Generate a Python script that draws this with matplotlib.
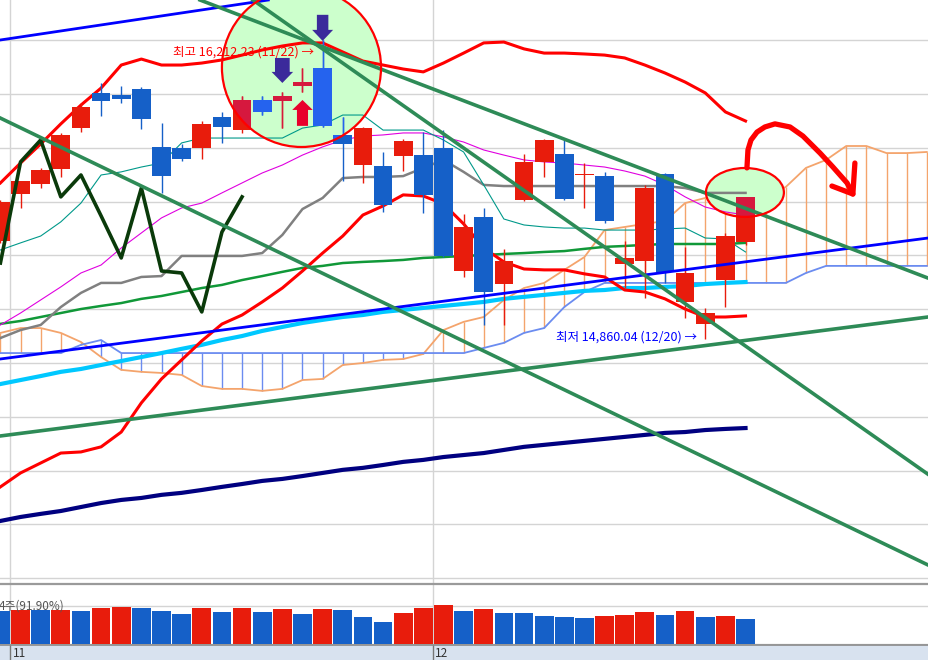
import numpy as np
import matplotlib.pyplot as plt
from matplotlib.patches import Ellipse, Polygon

plt.rcParams['font.family'] = ['Noto Sans CJK KR', 'DejaVu Sans']

# ---- daily candles (38 sessions, index 0 = last day of Oct) ----
opens = [15304, 15516, 15561, 15629, 15814, 15973, 15964, 15991, 15729, 15724,
         15724, 15864, 15805, 15941, 15936, 16004, 16086, 15783, 15647, 15643,
         15688, 15692, 15724, 15168, 15412, 15109, 15489, 15661, 15697, 15602,
         15597, 15200, 15213, 15606, 15028, 14928, 15127, 15299]
closes = [15480, 15575, 15625, 15783, 15909, 15936, 15946, 15855, 15597, 15674,
          15832, 15819, 15941, 15887, 15959, 16022, 15823, 15742, 15814, 15466,
          15756, 15512, 15236, 15367, 15073, 15213, 15661, 15760, 15494, 15606,
          15394, 15227, 15543, 15164, 15159, 14978, 15326, 15503]
highs = [15489, 15577, 15634, 15792, 15927, 16018, 16004, 16000, 15837, 15742,
         15846, 15887, 15959, 15959, 15977, 16086, 16212.23, 15864, 15819, 15706,
         15765, 15796, 15805, 15426, 15453, 15268, 15697, 15765, 15760, 15656,
         15616, 15304, 15557, 15611, 15277, 15001, 15340, 15503]
lows = [15295, 15453, 15543, 15593, 15796, 15869, 15927, 15810, 15521, 15665,
        15674, 15747, 15792, 15873, 15814, 15977, 15819, 15575, 15566, 15435,
        15620, 15430, 15231, 15141, 14924, 14924, 15484, 15593, 15489, 15453,
        15385, 15091, 15046, 15114, 14956, 14860.04, 15005, 15286]

volume = [98, 101, 101, 101, 98, 107, 110, 107, 98, 89,
          107, 95, 107, 95, 104, 89, 104, 101, 80, 65,
          92, 107, 116, 98, 104, 92, 92, 83, 80, 77,
          83, 86, 95, 86, 98, 80, 83, 74]
vol_up = [0, 1, 0, 1, 0, 1, 1, 0, 0, 0, 1, 0, 1, 0, 1, 0, 1, 0, 0, 0,
          1, 1, 1, 0, 1, 0, 0, 0, 0, 0, 1, 1, 1, 0, 1, 0, 1, 0]

# ---- indicator lines ----
bb_upper = [15566, 15656, 15742, 15833, 15918, 15995, 16099, 16126, 16099, 16099,
            16108, 16122, 16144, 16167, 16185, 16199, 16199, 16158, 16117, 16099,
            16081, 16068, 16108, 16153, 16199, 16203, 16172, 16153, 16153, 16149,
            16144, 16131, 16099, 16063, 16022, 15973, 15887, 15846]
bb_lower = [14192, 14255, 14300, 14345, 14350, 14373, 14440, 14572, 14680, 14766,
            14852, 14928, 14969, 15028, 15091, 15168, 15249, 15326, 15421, 15462,
            15512, 15507, 15471, 15381, 15272, 15209, 15177, 15173, 15173, 15155,
            15141, 15082, 15073, 15042, 14996, 14960, 14960, 14965]
zigzag = [15204, 15661, 15760, 15503, 15602, 15417, 15227, 15543, 15168, 15159,
          14983, 15344, 15503]
tenkan = [15263, 15295, 15326, 15390, 15475, 15602, 15616, 15638, 15656, 15747,
          15769, 15769, 15769, 15769, 15769, 15814, 15828, 15873, 15873, 15805,
          15805, 15805, 15760, 15706, 15557, 15403, 15376, 15367, 15362, 15362,
          15353, 15353, 15353, 15358, 15362, 15317, 15313, 15254]
ma_magenta = [14924, 14978, 15037, 15096, 15159, 15195, 15272, 15340, 15408, 15453,
              15475, 15521, 15566, 15611, 15647, 15692, 15729, 15760, 15778, 15783,
              15792, 15792, 15774, 15751, 15715, 15692, 15670, 15661, 15656, 15647,
              15638, 15620, 15597, 15557, 15503, 15457, 15435, 15421]
kijun = [14865, 14901, 14924, 15005, 15069, 15114, 15114, 15141, 15145, 15236,
         15236, 15236, 15236, 15249, 15331, 15448, 15498, 15588, 15593, 15593,
         15597, 15634, 15670, 15616, 15557, 15552, 15552, 15552, 15552, 15552,
         15552, 15552, 15552, 15552, 15543, 15521, 15521, 15521]
ma_green = [14929, 14942, 14960, 14978, 14996, 15010, 15023, 15042, 15055, 15073,
            15091, 15105, 15127, 15145, 15164, 15182, 15191, 15204, 15209, 15213,
            15218, 15227, 15231, 15236, 15240, 15245, 15249, 15254, 15258, 15268,
            15277, 15281, 15286, 15290, 15290, 15290, 15290, 15295]
ma_cyan = [14657, 14675, 14693, 14712, 14725, 14743, 14761, 14779, 14797, 14816,
           14834, 14856, 14874, 14897, 14915, 14933, 14947, 14960, 14969, 14983,
           14992, 15001, 15010, 15019, 15028, 15042, 15051, 15060, 15069, 15078,
           15082, 15091, 15091, 15096, 15100, 15109, 15114, 15118]
ma_navy = [14038, 14056, 14070, 14083, 14101, 14119, 14133, 14142, 14156, 14165,
           14178, 14192, 14205, 14219, 14228, 14241, 14255, 14269, 14278, 14291,
           14305, 14314, 14327, 14336, 14345, 14359, 14373, 14382, 14391, 14400,
           14409, 14418, 14427, 14436, 14440, 14449, 14454, 14458]
# ichimoku leading spans (run 9 sessions into the future)
span_a = [14888, 14910, 14910, 14888, 14847, 14779, 14721, 14712, 14707, 14698,
          14648, 14635, 14635, 14626, 14635, 14675, 14680, 14743, 14752, 14766,
          14770, 14793, 14901, 14938, 14960, 15037, 15091, 15114, 15173, 15231,
          15353, 15367, 15381, 15394, 15475, 15498, 15503, 15507, 15507, 15548,
          15634, 15670, 15733, 15733, 15701, 15701, 15706]
span_b = [14797, 14797, 14797, 14797, 14834, 14856, 14797, 14797, 14797, 14797,
          14797, 14797, 14797, 14797, 14797, 14797, 14797, 14797, 14797, 14797,
          14797, 14797, 14797, 14797, 14820, 14843, 14888, 14910, 15005, 15073,
          15114, 15114, 15114, 15114, 15114, 15114, 15114, 15114, 15114, 15114,
          15159, 15191, 15191, 15191, 15191, 15191, 15191]

# hand drawn trend lines: two anchor points (index, price)
trend_lines = [
    ((-0.02, 16212), (12.64, 16384), '#0000ff', 2.0),
    ((-0.02, 14770), (46.06, 15317), '#0000ff', 2.0),
    ((-0.02, 14422), (46.06, 14960), '#2e8b57', 2.6),
    ((-0.02, 15860), (46.06, 13839), '#2e8b57', 2.6),
    ((9.91, 16393), (46.06, 15136), '#2e8b57', 2.6),
    ((12.54, 16393), (46.11, 14246), '#2e8b57', 2.6),
]

# hand drawn red arrow (index, price)
curve_x = [37.07, 37.12, 37.27, 37.57, 37.96, 38.46, 39.21, 39.85, 40.70, 41.34, 42.04, 42.33]
curve_y = [15634, 15715, 15760, 15796, 15819, 15833, 15819, 15778, 15701, 15638, 15566, 15516]
head_x = [41.29, 42.33, 42.43]
head_y = [15552, 15516, 15656]

# block arrows over the top candles
arrow_x = [14, 16, 15]
arrow_tip = [16018, 16208, 15941]
arrow_dir = [1, 1, -1]          # 1 = pointing down
arrow_col = ['#3b2a9b', '#3b2a9b', '#e8002c']
arrow_size = [(0.73, 1.07, 63, 50), (0.57, 1.04, 68, 50), (0.55, 1.02, 72, 45)]

grid_levels = [13780, 14023, 14266, 14509, 14752, 14995, 15238, 15481, 15724, 15967, 16210]
month_lines = [0.5, 21.5]
month_labels = ['11', '12']

RED, BLUE = '#e81c0c', '#1560c8'
RED2, BLUE2 = '#d6183e', '#2563ee'

x = np.arange(len(opens))
xf = np.arange(len(span_a))
o, c, h, l = map(np.array, (opens, closes, highs, lows))
up = c >= o
xlim = (-0.02, 46.11)

fig = plt.figure(figsize=(9.29, 6.6), dpi=100)
ax = fig.add_axes([0, 76 / 660, 1, 584 / 660])
axv = fig.add_axes([0, 15 / 660, 1, 61 / 660])
axd = fig.add_axes([0, 0, 1, 15 / 660])

for a in (ax, axv, axd):
    a.set_xlim(*xlim)
    a.set_xticks([])
    a.set_yticks([])
    for s in a.spines.values():
        s.set_visible(False)

ax.set_ylim(13753, 16393)
for g in grid_levels:
    ax.axhline(g, color='#d4d4d4', lw=1, zorder=0.5)
for m in month_lines:
    ax.axvline(m, color='#d4d4d4', lw=1, zorder=0.5)

# ichimoku cloud
for i in xf:
    col = '#f4a46c' if span_a[i] > span_b[i] else '#6b8cf0'
    ax.vlines(i, min(span_a[i], span_b[i]), max(span_a[i], span_b[i]), color=col, lw=1, zorder=1)
ax.plot(xf, span_a, color='#f4a46c', lw=1.3, zorder=1.2)
ax.plot(xf, span_b, color='#6b8cf0', lw=1.3, zorder=1.2)

# highlight shapes
circle = Ellipse((14.95, 16088), 7.9, 719, facecolor='#ccffcc', edgecolor='none', zorder=1.5)
oval = Ellipse((36.97, 15523), 3.87, 221, facecolor='#ccffcc', edgecolor='none', zorder=1.5)
ax.add_patch(circle)
ax.add_patch(oval)

# moving averages and bands
ax.plot(x, ma_navy, color='#000080', lw=3, zorder=2)
ax.plot(x, ma_cyan, color='#00c8ff', lw=3, zorder=2)
ax.plot(x, ma_green, color='#109838', lw=1.8, zorder=2)
ax.plot(x, kijun, color='#808080', lw=1.8, zorder=2)
ax.plot(x, ma_magenta, color='#e000e0', lw=0.8, zorder=2)
ax.plot(x, tenkan, color='#00998a', lw=0.8, zorder=2)
ax.plot(x, bb_upper, color='#ff0000', lw=2.2, zorder=2.5)
ax.plot(x, bb_lower, color='#ff0000', lw=2.2, zorder=2.5)


def draw_candles(red, blue, z, clip=None):
    cols = np.where(up, red, blue)
    wk = ax.vlines(x, l, h, colors=cols, lw=1, zorder=z)
    bars = ax.bar(x, np.maximum(np.abs(c - o), 6), bottom=np.minimum(o, c), width=0.93,
                  color=cols, linewidth=0, zorder=z + 0.05)
    if clip is not None:
        wk.set_clip_path(clip)
        for b in bars:
            b.set_clip_path(clip)


draw_candles(RED, BLUE, 3)
draw_candles(RED2, BLUE2, 3.2, circle)
draw_candles(RED2, BLUE2, 3.2, oval)

ax.plot(np.arange(len(zigzag)), zigzag, color='#0a3a0a', lw=2.6, zorder=4)

for p1, p2, col, lw in trend_lines:
    ax.axline(p1, p2, color=col, lw=lw, zorder=4.2)

ax.add_patch(Ellipse((14.95, 16088), 7.9, 719, facecolor='none', edgecolor='#ff0000', lw=1.6, zorder=6))
ax.add_patch(Ellipse((36.97, 15523), 3.87, 221, facecolor='none', edgecolor='#ff0000', lw=1.6, zorder=6))

for xc, tip, d, col, (sw, hw, sl, hl) in zip(arrow_x, arrow_tip, arrow_dir, arrow_col, arrow_size):
    base = tip + d * hl
    top = base + d * sl
    verts = [(xc, tip), (xc - hw / 2, base), (xc - sw / 2, base), (xc - sw / 2, top),
             (xc + sw / 2, top), (xc + sw / 2, base), (xc + hw / 2, base)]
    ax.add_patch(Polygon(verts, closed=True, color=col, lw=0, zorder=7))

ax.plot(curve_x, curve_y, color='#ff0000', lw=3.8, solid_capstyle='round',
        solid_joinstyle='round', zorder=7)
ax.plot(head_x, head_y, color='#ff0000', lw=3.8, solid_capstyle='round',
        solid_joinstyle='round', zorder=7)

ax.text(15.57, 16158, '최고 16,212.23 (11/22) →', color='#ff0000', fontsize=9,
        ha='right', va='center', zorder=5)
ax.text(34.59, 14870, '최저 14,860.04 (12/20) →', color='#0000ff', fontsize=9,
        ha='right', va='center', zorder=5)

# volume panel
axv.set_ylim(-3.9, 179)
axv.axhline(0, color='#d4d4d4', lw=1, zorder=0.5)
axv.axhline(113, color='#d4d4d4', lw=1, zorder=0.5)
for m in month_lines:
    axv.axvline(m, color='#d4d4d4', lw=1, zorder=0.5)
axv.spines['top'].set_visible(True)
axv.spines['top'].set_color('#9a9a9a')
axv.spines['top'].set_linewidth(1.6)
axv.bar(x, volume, width=0.93, color=np.where(np.array(vol_up) == 1, RED, BLUE), linewidth=0, zorder=2)
axv.text(-0.08, 112, '4주(91.90%)', fontsize=8.5, color='#555555', ha='left', va='center', zorder=3)

# date strip
axd.set_facecolor('#d8e2ef')
axd.set_ylim(0, 1)
axd.spines['top'].set_visible(True)
axd.spines['top'].set_color('#8a8a8a')
axd.spines['top'].set_linewidth(1.2)
for m, lab in zip(month_lines, month_labels):
    axd.axvline(m, color='#777777', lw=1)
    axd.text(m + 0.1, 0.45, lab, fontsize=8.5, color='#333333', ha='left', va='center')

fig.savefig('out.png', dpi=100)
